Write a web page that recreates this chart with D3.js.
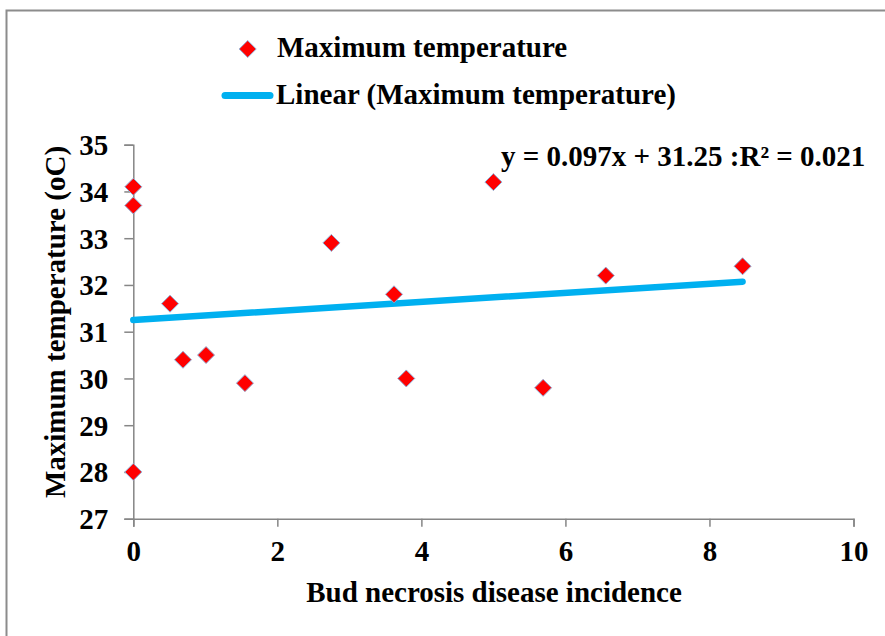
<!DOCTYPE html>
<html>
<head>
<meta charset="utf-8">
<script src="https://cdn.jsdelivr.net/npm/d3@7"></script>
<style>
  body { margin: 0; background: #fff; }
  svg text { font-family: "Liberation Serif", "Times New Roman", serif !important; font-weight: bold; fill: #000; }
</style>
</head>
<body>
<div id="main"></div>
<script>
// incidence (x) vs max temperature (y)
var incidence = [0, 0, 0, 0.51, 0.69, 1.01, 1.55, 2.75, 3.62, 3.79, 5.0, 5.69, 6.56, 8.46];
var maxTemp   = [34.1, 33.7, 28.0, 31.6, 30.4, 30.5, 29.9, 32.9, 31.8, 30.0, 34.2, 29.8, 32.2, 32.4];
var xTicks = [0, 2, 4, 6, 8, 10];
var yTicks = [27, 28, 29, 30, 31, 32, 33, 34, 35];
var slope = 0.097, intercept = 31.25;
var seriesName = "Maximum temperature";
var trendName = "Linear (Maximum temperature)";
var equationLabel = "y = 0.097x + 31.25 :R\u00b2 = 0.021";

var W = 885, H = 636;
var serif = "'Liberation Serif', 'Times New Roman', serif";
var svg = d3.select("#main").append("svg")
    .attr("width", W)
    .attr("height", H);

// chart area border (only top/left visible in the original crop)
svg.append("rect")
    .attr("x", 6.5).attr("y", 10.5)
    .attr("width", 1000).attr("height", 1000)
    .attr("fill", "none")
    .attr("stroke", "#8c8c8c")
    .attr("stroke-width", 2);

var x = d3.scaleLinear().domain([0, 10]).range([133.3, 853.5]);
var y = d3.scaleLinear().domain([27, 35]).range([518.7, 144.7]);

var axisColor = "#868686";

// x axis
var gx = svg.append("g").attr("transform", "translate(0," + y(27) + ")")
    .call(d3.axisBottom(x).tickValues(xTicks).tickSize(8).tickPadding(14).tickFormat(d3.format("d")));
// y axis
var gy = svg.append("g").attr("transform", "translate(" + x(0) + ",0)")
    .call(d3.axisLeft(y).tickValues(yTicks).tickSize(9).tickPadding(16).tickFormat(d3.format("d")));

[gx, gy].forEach(function(g) {
  g.attr("font-family", serif).attr("font-size", 29);
  g.select(".domain").attr("stroke", axisColor).attr("stroke-width", 1.5);
  g.selectAll(".tick line").attr("stroke", axisColor).attr("stroke-width", 1.5);
  g.selectAll(".tick text")
    .style("font-family", serif)
    .style("font-size", "29px")
    .style("font-weight", "bold")
    .attr("fill", "#000");
});
gy.selectAll(".tick text").attr("dy", "0.34em");

// trendline
var xMax = d3.max(incidence);
svg.append("line")
    .attr("x1", x(0)).attr("y1", y(intercept))
    .attr("x2", x(xMax)).attr("y2", y(intercept + slope * xMax))
    .attr("stroke", "#00b0f0")
    .attr("stroke-width", 6.5)
    .attr("stroke-linecap", "round");

// points
var diamond = function(cx, cy, r) {
  return "M" + cx + "," + (cy - r) + "L" + (cx + r) + "," + cy + "L" + cx + "," + (cy + r) + "L" + (cx - r) + "," + cy + "Z";
};
svg.append("g").selectAll("path")
    .data(d3.zip(incidence, maxTemp))
    .enter()
    .append("path")
    .attr("d", function(d) { return diamond(x(d[0]), y(d[1]), 8.5); })
    .attr("fill", "#ff0000")
    .attr("stroke", "#8fb0d8")
    .attr("stroke-width", 1);

// equation
svg.append("text")
    .attr("x", 501).attr("y", 166)
    .attr("font-size", 29)
    .text(equationLabel);

// legend
svg.append("path")
    .attr("d", diamond(247.7, 49, 8.5))
    .attr("fill", "#ff0000")
    .attr("stroke", "#8fb0d8")
    .attr("stroke-width", 1);
svg.append("text")
    .attr("x", 277).attr("y", 57)
    .attr("font-size", 29)
    .text(seriesName);
svg.append("line")
    .attr("x1", 225).attr("y1", 95.5)
    .attr("x2", 270).attr("y2", 95.5)
    .attr("stroke", "#00b0f0")
    .attr("stroke-width", 7)
    .attr("stroke-linecap", "round");
svg.append("text")
    .attr("x", 276).attr("y", 104)
    .attr("font-size", 29)
    .text(trendName);

// axis titles
svg.append("text")
    .attr("x", 494).attr("y", 602)
    .attr("text-anchor", "middle")
    .attr("font-size", 29)
    .text("Bud necrosis disease incidence");
svg.append("text")
    .attr("transform", "translate(65,322) rotate(-90)")
    .attr("text-anchor", "middle")
    .attr("font-size", 29)
    .text("Maximum temperature (oC)");
</script>
</body>
</html>
